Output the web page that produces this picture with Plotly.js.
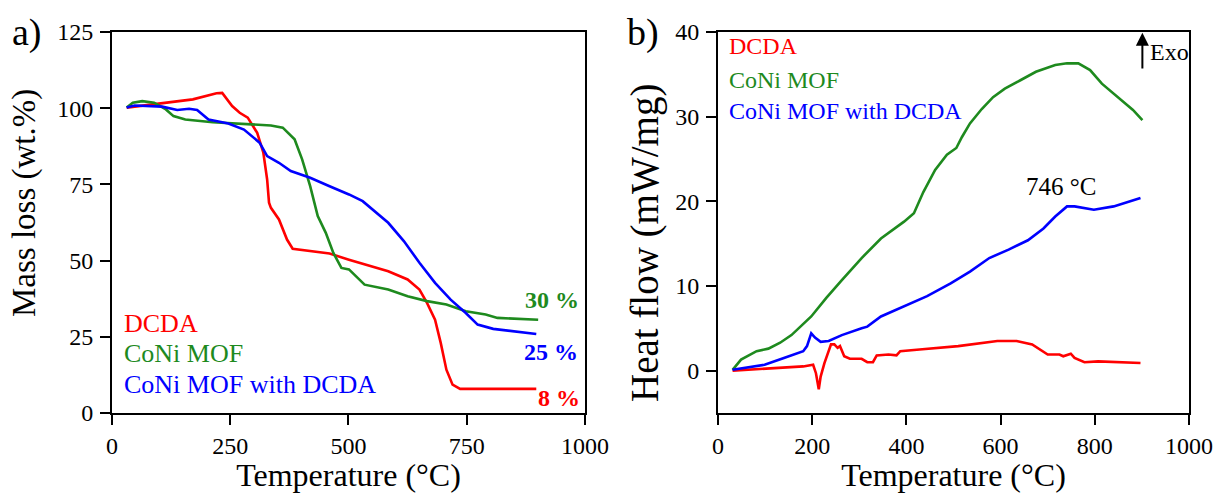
<!DOCTYPE html>
<html>
<head>
<meta charset="utf-8">
<script src="https://cdn.plot.ly/plotly-3.0.1.min.js"></script>
<style>html,body{margin:0;padding:0;background:#fff;}#chart{width:1220px;height:493px;}</style>
</head>
<body>
<div id="chart"></div>
<script>
// ---- (a) TGA data ----
const tgaDcdaT = [31, 89, 171, 221, 233, 254, 270, 287, 307, 320, 328, 332, 336, 353, 370, 382, 419, 460, 501, 584, 625, 650, 666, 683, 695, 707, 720, 736, 897];
const tgaDcdaM = [100.2, 101.3, 102.9, 104.9, 105, 100.7, 98.5, 96.9, 91.9, 85.4, 76.6, 69, 67.3, 63.5, 56.9, 53.9, 53.1, 52.3, 50.3, 46.5, 43.8, 40.5, 36.1, 30.6, 23, 14.2, 9.3, 7.9, 7.9];
const tgaMofT = [31, 44, 64, 89, 114, 130, 155, 213, 295, 336, 361, 386, 402, 419, 435, 452, 468, 485, 501, 534, 584, 625, 666, 707, 748, 790, 815, 901];
const tgaMofM = [100.2, 101.8, 102.3, 101.8, 99.6, 97.4, 96.3, 95.4, 94.7, 94.3, 93.6, 89.8, 83.2, 74.4, 64.6, 59.1, 52.5, 47.6, 47.1, 42.1, 40.5, 38.3, 36.7, 35.6, 33.4, 32.3, 31.2, 30.6];
const tgaMixT = [31, 48, 106, 138, 163, 180, 204, 246, 279, 312, 328, 353, 378, 419, 460, 501, 530, 559, 584, 617, 650, 683, 716, 748, 773, 806, 856, 897];
const tgaMixM = [100.2, 100.9, 100.5, 99.4, 99.8, 99.4, 96.3, 95, 93, 88.7, 84.3, 82.1, 79.4, 77.2, 74.4, 71.7, 69.5, 65.7, 62.4, 56.4, 49.3, 42.7, 37.2, 32.8, 29, 27.6, 26.8, 25.9];

// ---- (b) DSC data ----
const dscDcdaT = [31, 99, 181, 202, 208, 214, 218, 226, 240, 247, 254, 259, 268, 280, 305, 317, 329, 337, 362, 379, 387, 428, 510, 593, 634, 667, 683, 700, 725, 733, 749, 757, 778, 807, 897];
const dscDcdaH = [0, 0.2, 0.5, 0.7, -0.3, -2.2, -0.7, 0.9, 3.1, 3.1, 2.7, 2.9, 1.7, 1.4, 1.4, 1.0, 1.0, 1.8, 1.9, 1.8, 2.3, 2.5, 2.9, 3.5, 3.5, 3.1, 2.5, 1.9, 1.9, 1.7, 2.0, 1.5, 1.0, 1.1, 0.9];
const dscMofT = [31, 49, 82, 107, 132, 156, 198, 230, 263, 305, 346, 370, 395, 416, 436, 461, 486, 506, 518, 535, 560, 584, 609, 642, 675, 716, 741, 765, 790, 815, 848, 881, 901];
const dscMofH = [0.1, 1.3, 2.3, 2.6, 3.3, 4.2, 6.4, 8.6, 10.7, 13.3, 15.6, 16.6, 17.6, 18.6, 21.1, 23.7, 25.5, 26.3, 27.6, 29.2, 30.9, 32.3, 33.3, 34.3, 35.3, 36.1, 36.3, 36.3, 35.5, 33.9, 32.3, 30.8, 29.6];
const dscMixT = [31, 99, 140, 181, 189, 198, 206, 218, 235, 263, 305, 317, 346, 395, 444, 494, 535, 576, 617, 658, 691, 716, 741, 757, 798, 840, 897];
const dscMixH = [0.1, 0.7, 1.5, 2.3, 2.9, 4.4, 3.9, 3.4, 3.5, 4.2, 5.0, 5.2, 6.4, 7.6, 8.8, 10.3, 11.7, 13.3, 14.3, 15.4, 16.8, 18.2, 19.4, 19.4, 19.0, 19.4, 20.4];

const seriesNames = ["DCDA", "CoNi MOF", "CoNi MOF with DCDA"];
const xTicksA = [0, 250, 500, 750, 1000];
const yTicksA = [0, 25, 50, 75, 100, 125];
const xTicksB = [0, 200, 400, 600, 800, 1000];
const yTicksB = [0, 10, 20, 30, 40];
const residueLabels = ["30 %", "25 %", "8 %"];
const residueY = [37.1, 20.0, 4.9];
const peakLabel = "746 °C";
const xTitle = "Temperature (°C)";
const yTitleA = "Mass loss (wt.%)";
const yTitleB = "Heat flow (mW/mg)";

const RED = "#ff0000", GREEN = "#1e8a1e", BLUE = "#0000ff";
const colors = [RED, GREEN, BLUE];
const FONT = "Liberation Serif";
const LW = 2.6;

function tr(x, y, c, xa, ya) {
  return {x: x, y: y, type: "scatter", mode: "lines", line: {color: c, width: LW}, xaxis: xa, yaxis: ya, showlegend: false, hoverinfo: "skip"};
}

const data = [
  tr(tgaDcdaT, tgaDcdaM, RED, "x", "y"),
  tr(tgaMofT, tgaMofM, GREEN, "x", "y"),
  tr(tgaMixT, tgaMixM, BLUE, "x", "y"),
  tr(dscDcdaT, dscDcdaH, RED, "x2", "y2"),
  tr(dscMofT, dscMofH, GREEN, "x2", "y2"),
  tr(dscMixT, dscMixH, BLUE, "x2", "y2")
];

function axis(dom, range, ticks, titleText, anchor, standoff) {
  const a = {
    domain: dom, range: range, tickvals: ticks, ticktext: ticks.map(String),
    showline: true, mirror: true, linecolor: "#000", linewidth: 2,
    ticks: "outside", ticklen: 10, tickwidth: 2, tickcolor: "#000",
    showgrid: false, zeroline: false, anchor: anchor,
    tickfont: {family: FONT, size: 24, color: "#000"},
    automargin: false
  };
  if (titleText) a.title = {text: titleText, font: {family: FONT, size: 32, color: "#000"}, standoff: standoff};
  return a;
}

const yDom = [0.1623, 0.9351];
const layout = {
  width: 1220, height: 493,
  font: {family: FONT, color: "#000"},
  margin: {l: 0, r: 0, t: 0, b: 0},
  paper_bgcolor: "#fff", plot_bgcolor: "#fff",
  xaxis: axis([0.0918, 0.4795], [0, 1000], xTicksA, xTitle, "y", 0),
  yaxis: axis(yDom, [0, 125], yTicksA, null, "x", 0),
  xaxis2: axis([0.5885, 0.9746], [0, 1000], xTicksB, xTitle, "y2", 0),
  yaxis2: axis(yDom, [-5, 40], yTicksB, null, "x2", 0),
  annotations: []
};
layout.yaxis.ticklabelstandoff = 2;
layout.yaxis2.ticklabelstandoff = 2;

const ann = layout.annotations;
// y-axis titles
ann.push({xref: "paper", yref: "paper", x: 24 / 1220, y: 1 - 203 / 493, xanchor: "center", yanchor: "middle", textangle: -90, text: yTitleA, showarrow: false, font: {family: FONT, size: 33, color: "#000"}});
ann.push({xref: "paper", yref: "paper", x: 645 / 1220, y: 1 - 243 / 493, xanchor: "center", yanchor: "middle", textangle: -90, text: yTitleB, showarrow: false, font: {family: FONT, size: 39, color: "#000"}});
// panel labels
ann.push({xref: "paper", yref: "paper", x: 0.008, y: 0.935, xanchor: "left", yanchor: "middle", text: "a)", showarrow: false, font: {family: FONT, size: 38, color: "#000"}});
ann.push({xref: "paper", yref: "paper", x: 0.512, y: 0.935, xanchor: "left", yanchor: "middle", text: "b)", showarrow: false, font: {family: FONT, size: 38, color: "#000"}});
// legends as colored text
const legA = [29.5, 19.4, 9.2];
const legB = [38.3, 34.3, 30.7];
seriesNames.forEach((n, i) => {
  ann.push({xref: "x", yref: "y", x: 21, y: legA[i], xanchor: "left", yanchor: "middle", text: n, showarrow: false, font: {family: FONT, size: 26, color: colors[i]}});
  ann.push({xref: "x2", yref: "y2", x: 19, y: legB[i], xanchor: "left", yanchor: "middle", text: n, showarrow: false, font: {family: FONT, size: 24, color: colors[i]}});
});
// residue labels
const resColors = [GREEN, BLUE, RED];
const resX = [931, 929, 944];
residueLabels.forEach((t, i) => {
  ann.push({xref: "x", yref: "y", x: resX[i], y: residueY[i], xanchor: "center", yanchor: "middle", text: "<b>" + t + "</b>", showarrow: false, font: {family: FONT, size: 24, color: resColors[i]}});
});
// peak label
ann.push({xref: "x2", yref: "y2", x: 729, y: 21.7, xanchor: "center", yanchor: "middle", text: peakLabel, showarrow: false, font: {family: FONT, size: 25, color: "#000"}});
// Exo arrow
ann.push({xref: "x2", yref: "y2", x: 901, y: 39.9, axref: "x2", ayref: "y2", ax: 901, ay: 35.5, text: "", showarrow: true, arrowhead: 2, arrowsize: 1.3, arrowwidth: 2, arrowcolor: "#000"});
ann.push({xref: "x2", yref: "y2", x: 912, y: 37.6, xanchor: "left", yanchor: "middle", text: "Exo", showarrow: false, font: {family: FONT, size: 24, color: "#000"}});

Plotly.newPlot("chart", data, layout, {staticPlot: true, displayModeBar: false});
</script>
</body>
</html>
